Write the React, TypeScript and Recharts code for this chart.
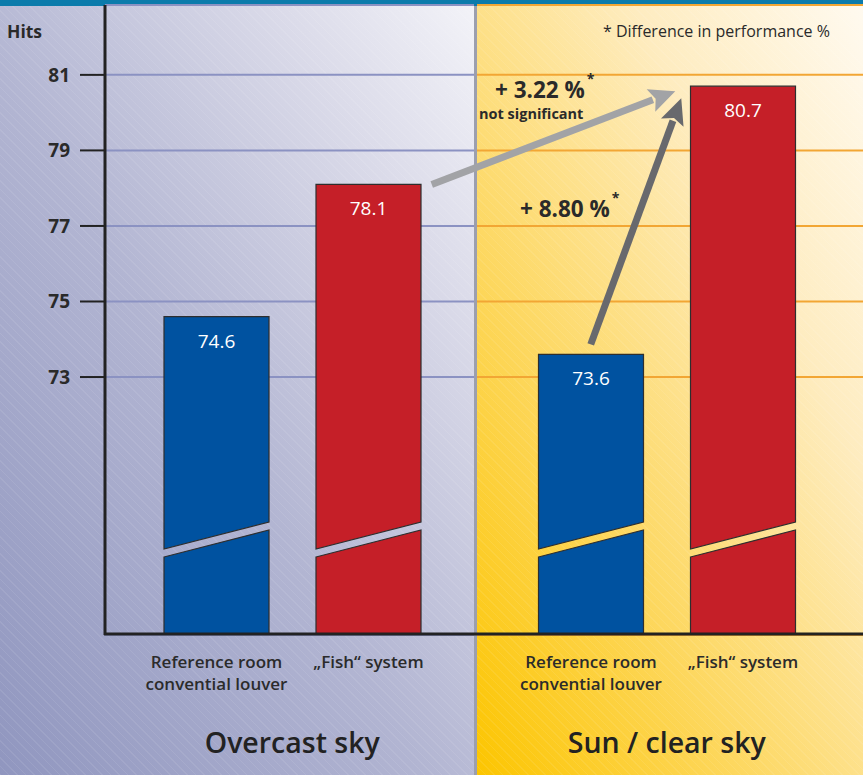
import React from 'react';
import { BarChart, Bar, XAxis, YAxis, CartesianGrid, LabelList } from 'recharts';

// sky conditions (groups) and the two rooms compared in each
const groups = ['Overcast sky', 'Sun / clear sky'];
const referenceRoom = [74.6, 73.6];
const fishSystem = [78.1, 80.7];
const yTicks = [73, 75, 77, 79, 81];
const referenceLabel = ['Reference room', 'convential louver'];
const fishLabel = ['\u201EFish\u201C system'];
const differences = ['+ 3.22 %', '+ 8.80 %'];

const W = 863;
const H = 775;
const PLOT_LEFT = 105;
const RIGHT_MARGIN = 9;
const PLOT_TOP = 5;
const PLOT_BOTTOM = 635;
const Y_MIN = 66.17;
const Y_MAX = 82.85;
const BAR_SIZE = 105;
const BAR_GAP = 47;
const SPLIT_X = 475;
const FONT = '"Open Sans", "Noto Sans", sans-serif';

const data = groups.map((g, i) => ({
  group: g,
  reference: referenceRoom[i],
  fish: fishSystem[i],
}));

const yPx = (v: number) =>
  PLOT_TOP + ((Y_MAX - v) / (Y_MAX - Y_MIN)) * (PLOT_BOTTOM - PLOT_TOP);
const bandW = (W - RIGHT_MARGIN - PLOT_LEFT) / groups.length;
const barCenter = (g: number, s: number) =>
  PLOT_LEFT + bandW * (g + 0.5) + (s === 0 ? -1 : 1) * (BAR_SIZE + BAR_GAP) / 2;

const BrokenBar = (props: any) => {
  const { x, y, width, height, fill } = props;
  if (!width || !height) return null;
  const bottom = y + height;
  const r = x + width;
  const upper = `M${x},${y} L${r},${y} L${r},${bottom - 113} L${x},${bottom - 86} Z`;
  const lower = `M${x},${bottom - 78} L${r},${bottom - 105} L${r},${bottom} L${x},${bottom} Z`;
  return (
    <g>
      <path d={upper} fill={fill} stroke="#2e2e2e" strokeWidth={1.2} />
      <path d={lower} fill={fill} stroke="#2e2e2e" strokeWidth={1.2} />
    </g>
  );
};

const valueLabel = (props: any) => {
  const { x, y, width, value } = props;
  return (
    <text x={x + width / 2} y={y + 31} textAnchor="middle" fill="#ffffff"
      fontSize={19} fontFamily={FONT}>
      {String(value)}
    </text>
  );
};

const nameLabel = (lines: string[]) => (props: any) => {
  const { x, width } = props;
  return (
    <text x={x + width / 2} textAnchor="middle" fill="#2b2b2b" fontSize={17}
      fontWeight={600} fontFamily={FONT}>
      {lines.map((l, i) => (
        <tspan key={i} x={x + width / 2} y={PLOT_BOTTOM + 33 + i * 22}>{l}</tspan>
      ))}
    </text>
  );
};

const GroupTick = (props: any) => {
  const { x, payload } = props;
  return (
    <text x={x} y={PLOT_BOTTOM + 118} textAnchor="middle" fill="#222"
      fontSize={28.5} fontWeight={600} fontFamily={FONT}>
      {payload.value}
    </text>
  );
};

const gridLine = (p: any) => (
  <g key={p.key}>
    <line x1={p.x1} x2={SPLIT_X - 1} y1={p.y1} y2={p.y2} stroke="#8b92c2" strokeWidth={2} />
    <line x1={SPLIT_X + 2} x2={W} y1={p.y1} y2={p.y2} stroke="#f2a634" strokeWidth={2} />
  </g>
);

const Arrow = ({ x1, y1, x2, y2, color }: any) => {
  const dx = x2 - x1;
  const dy = y2 - y1;
  const len = Math.sqrt(dx * dx + dy * dy);
  const ux = dx / len;
  const uy = dy / len;
  const head = 26;
  const half = 12;
  const bx = x2 - ux * head;
  const by = y2 - uy * head;
  return (
    <g>
      <line x1={x1} y1={y1} x2={bx + ux * 2} y2={by + uy * 2} stroke={color} strokeWidth={7} />
      <polygon
        points={`${x2},${y2} ${bx - uy * half},${by + ux * half} ${bx + ux * 5},${by + uy * 5} ${bx + uy * half},${by - ux * half}`}
        fill={color}
      />
    </g>
  );
};

const stripes = 'repeating-linear-gradient(45deg, rgba(255,255,255,0.08) 0px, rgba(255,255,255,0.08) 1px, transparent 1px, transparent 6px)';

export default function App() {
  const a1 = {
    x1: barCenter(0, 1) + BAR_SIZE / 2 + 11,
    y1: yPx(fishSystem[0]),
    x2: barCenter(1, 1) - BAR_SIZE / 2 - 15,
    y2: yPx(fishSystem[1]) + 5,
  };
  const a2 = {
    x1: barCenter(1, 0),
    y1: yPx(referenceRoom[1]) - 10,
    x2: barCenter(1, 1) - BAR_SIZE / 2 - 9,
    y2: yPx(fishSystem[1]) + 12,
  };

  return (
    <div style={{ position: 'absolute', left: 0, top: 0, width: W, height: H, overflow: 'hidden', fontFamily: FONT }}>
      <div style={{
        position: 'absolute', left: 0, top: 0, width: SPLIT_X - 1, height: H,
        background: `${stripes}, linear-gradient(to top right, #9096bf 0%, #b2b5d2 45%, #dcdcea 80%, #f3f3f8 100%)`,
      }} />
      <div style={{
        position: 'absolute', left: SPLIT_X + 2, top: 0, width: W - SPLIT_X - 2, height: H,
        background: `${stripes}, linear-gradient(to top right, #fcc500 0%, #fdd862 35%, #feecc0 70%, #fffaf0 100%)`,
      }} />
      <div style={{ position: 'absolute', left: SPLIT_X - 1, top: 0, width: 3, height: H, background: '#9c9fae' }} />
      <div style={{ position: 'absolute', left: 0, top: 0, width: W, height: 6, background: '#0b7bab' }} />

      <div style={{ position: 'absolute', left: 0, top: 0 }}>
        <BarChart width={W} height={H} data={data} barSize={BAR_SIZE} barGap={BAR_GAP}
          margin={{ top: PLOT_TOP, right: RIGHT_MARGIN, bottom: 0, left: 0 }}>
          <CartesianGrid vertical={false} horizontal={gridLine} />
          <XAxis dataKey="group" height={H - PLOT_BOTTOM} axisLine={false} tickLine={false}
            tick={<GroupTick />} interval={0} />
          <YAxis width={PLOT_LEFT} domain={[Y_MIN, Y_MAX]} ticks={yTicks} allowDataOverflow
            interval={0} tickSize={25} tickMargin={10}
            axisLine={{ stroke: '#222', strokeWidth: 3 }}
            tickLine={{ stroke: '#222', strokeWidth: 2 }}
            tick={{ fill: '#2a2a2a', fontSize: 19, fontWeight: 700, fontFamily: FONT }} />
          <Bar dataKey="reference" fill="#0052a0" shape={BrokenBar} isAnimationActive={false}>
            <LabelList dataKey="reference" content={valueLabel} />
            <LabelList dataKey="reference" content={nameLabel(referenceLabel)} />
          </Bar>
          <Bar dataKey="fish" fill="#c51f28" shape={BrokenBar} isAnimationActive={false}>
            <LabelList dataKey="fish" content={valueLabel} />
            <LabelList dataKey="fish" content={nameLabel(fishLabel)} />
          </Bar>
        </BarChart>
      </div>

      <svg width={W} height={H} style={{ position: 'absolute', left: 0, top: 0, pointerEvents: 'none' }}>
        <line x1={PLOT_LEFT - 1} x2={W} y1={PLOT_BOTTOM - 1} y2={PLOT_BOTTOM - 1} stroke="#222" strokeWidth={3} />
        <Arrow {...a1} color="#a2a3a6" />
        <Arrow {...a2} color="#68696d" />
        <text x={7} y={38} fill="#2a2a2a" fontSize={17.5} fontWeight={700} fontFamily={FONT}>Hits</text>
        <text x={603} y={37} fill="#2a2a2a" fontSize={16} fontFamily={FONT}>* Difference in performance %</text>
        <text x={495} y={98} fill="#2a2a2a" fontSize={22.5} fontWeight={700} fontFamily={FONT}>
          {differences[0]}
          <tspan dx={2} dy={-14} fontSize={14}>*</tspan>
        </text>
        <text x={479} y={119} fill="#2a2a2a" fontSize={14.5} fontWeight={700} fontFamily={FONT}>not significant</text>
        <text x={520} y={217} fill="#2a2a2a" fontSize={22.5} fontWeight={700} fontFamily={FONT}>
          {differences[1]}
          <tspan dx={2} dy={-14} fontSize={14}>*</tspan>
        </text>
      </svg>
    </div>
  );
}
